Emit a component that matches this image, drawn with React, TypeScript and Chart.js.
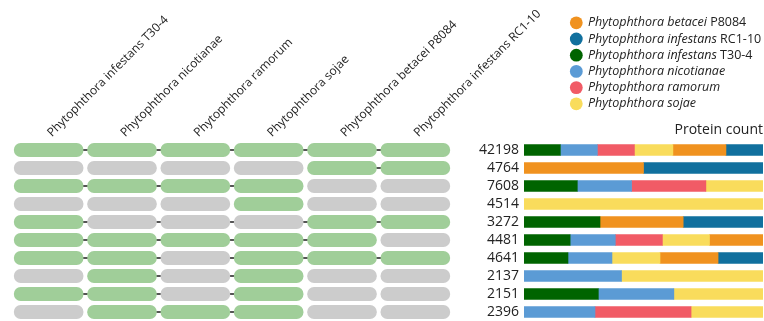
import { useEffect, useRef } from 'react';
import { Chart, registerables } from 'chart.js';

Chart.register(...registerables);

// Species in matrix-column / stack order
const speciesGenus = [
  'Phytophthora infestans',
  'Phytophthora nicotianae',
  'Phytophthora ramorum',
  'Phytophthora sojae',
  'Phytophthora betacei',
  'Phytophthora infestans',
];
const speciesStrain = ['T30-4', '', '', '', 'P8084', 'RC1-10'];
const speciesColors = ['#006400', '#5b9bd5', '#f15b66', '#f9dc5c', '#f0921f', '#11709e'];
// Legend lists species alphabetically
const legendOrder = [4, 5, 0, 1, 2, 3];

// Which species (column indices) share each protein cluster
const memberships: number[][] = [
  [0, 1, 2, 3, 4, 5],
  [4, 5],
  [0, 1, 2, 3],
  [3],
  [0, 4, 5],
  [0, 1, 2, 3, 4],
  [0, 1, 3, 4, 5],
  [1, 3],
  [0, 1, 3],
  [1, 2, 3],
];
const proteinCounts = [42198, 4764, 7608, 4514, 3272, 4481, 4641, 2137, 2151, 2396];

// Share of each cluster's proteins per species (percent)
const shareT30 = [15.2, 0, 22.3, 0, 31.8, 19.3, 18.4, 0, 31.1, 0];
const shareNicotianae = [15.5, 0, 22.7, 0, 0, 18.9, 18.4, 40.8, 31.6, 29.7];
const shareRamorum = [15.5, 0, 31.1, 0, 0, 19.7, 0, 0, 0, 40.2];
const shareSojae = [16.1, 0, 23.8, 100, 0, 19.7, 20.1, 59.2, 37.3, 30.0];
const shareBetacei = [22.2, 50, 0, 0, 34.8, 22.5, 24.3, 0, 0, 0];
const shareRC1 = [15.5, 50, 0, 0, 33.4, 0, 18.7, 0, 0, 0];
const shares = [shareT30, shareNicotianae, shareRamorum, shareSojae, shareBetacei, shareRC1];

const MEMBER_GREEN = '#a0ce99';
const ABSENT_GREY = '#cccccc';
const TEXT = '#222222';
const FONT = "'Open Sans', sans-serif";

const fullName = (i: number) =>
  speciesStrain[i] ? `${speciesGenus[i]} ${speciesStrain[i]}` : speciesGenus[i];

const legendPlugin = {
  id: 'speciesLegend',
  afterDraw(chart: any) {
    const ctx = chart.ctx as CanvasRenderingContext2D;
    ctx.save();
    legendOrder.forEach((s, k) => {
      const cy = 22.8 + k * 16.2;
      ctx.beginPath();
      ctx.arc(106.3, cy, 6.4, 0, Math.PI * 2);
      ctx.fillStyle = speciesColors[s];
      ctx.fill();
      ctx.fillStyle = TEXT;
      ctx.textBaseline = 'middle';
      ctx.textAlign = 'left';
      ctx.font = `italic 12.5px ${FONT}`;
      ctx.fillText(speciesGenus[s], 118, cy);
      if (speciesStrain[s]) {
        const w = ctx.measureText(speciesGenus[s] + ' ').width;
        ctx.font = `12.5px ${FONT}`;
        ctx.fillText(speciesStrain[s], 118 + w, cy);
      }
    });
    ctx.restore();
  },
};

export default function App() {
  const matrixRef = useRef<HTMLCanvasElement>(null);
  const barRef = useRef<HTMLCanvasElement>(null);

  useEffect(() => {
    Chart.defaults.font.family = FONT;

    const pillSets = speciesGenus.map((_, c) => ({
      label: fullName(c),
      data: memberships.map((_m, r) => ({ x: [c - 0.47, c + 0.47], y: r })),
      backgroundColor: memberships.map((m) => (m.includes(c) ? MEMBER_GREEN : ABSENT_GREY)),
      borderRadius: 20,
      borderSkipped: false,
      borderWidth: 0,
      barThickness: 13.5,
      grouped: false,
      order: 0,
    }));
    // Thin line joining the first and last member of each multi-species cluster
    const connectorSet = {
      label: 'link',
      data: memberships.map((m, r) =>
        m.length > 1 ? { x: [Math.min(...m), Math.max(...m)], y: r } : { x: null, y: r }
      ),
      backgroundColor: '#555555',
      borderWidth: 0,
      barThickness: 1.5,
      grouped: false,
      order: 10,
    };

    const matrix = new Chart(matrixRef.current!, {
      type: 'bar',
      data: { datasets: [...pillSets, connectorSet] as any },
      options: {
        indexAxis: 'y',
        animation: false,
        responsive: false,
        events: [],
        layout: { padding: { left: 12, right: 312, top: 0, bottom: 0 } },
        plugins: { legend: { display: false }, tooltip: { enabled: false } },
        scales: {
          x: {
            type: 'linear',
            position: 'top',
            min: -0.5,
            max: 5.5,
            afterBuildTicks: (s: any) => {
              s.ticks = speciesGenus.map((_, i) => ({ value: i }));
            },
            afterFit: (s: any) => {
              s.height = 141;
              s.paddingLeft = 0;
              s.paddingRight = 0;
            },
            ticks: {
              autoSkip: false,
              minRotation: 45,
              maxRotation: 45,
              padding: 1,
              labelOffset: 11,
              color: TEXT,
              font: { size: 12 },
              callback: (v: any) => fullName(Number(v)),
            },
            grid: { display: false, drawTicks: false },
            border: { display: false },
          },
          y: {
            type: 'linear',
            min: -0.5,
            max: 9.5,
            reverse: true,
            offset: false,
            display: false,
          },
        },
      } as any,
    });

    const bars = new Chart(barRef.current!, {
      type: 'bar',
      data: {
        labels: proteinCounts.map(String),
        datasets: speciesGenus.map((_, c) => ({
          label: fullName(c),
          // species absent from a cluster get no segment at all
          data: shares[c].map((v) => (v > 0 ? v : null)),
          backgroundColor: speciesColors[c],
          borderWidth: 0,
          barThickness: 11,
        })),
      },
      options: {
        indexAxis: 'y',
        animation: false,
        responsive: false,
        events: [],
        layout: { padding: { left: 0, right: 1, top: 118, bottom: 0 } },
        plugins: { legend: { display: false }, tooltip: { enabled: false } },
        scales: {
          x: {
            stacked: true,
            min: 0,
            max: 100,
            position: 'top',
            ticks: { display: false },
            grid: { display: false, drawTicks: false },
            border: { display: false },
            title: {
              display: true,
              text: 'Protein count',
              align: 'end',
              color: TEXT,
              font: { size: 14 },
              padding: { top: 4, bottom: 4 },
            },
            afterFit: (s: any) => {
              s.height = 23;
            },
          },
          y: {
            stacked: true,
            ticks: { color: TEXT, font: { size: 14 }, padding: 5, autoSkip: false },
            grid: { display: false, drawTicks: false },
            border: { display: false },
            afterFit: (s: any) => {
              s.width = 54;
              s.paddingTop = 0;
              s.paddingBottom = 0;
            },
          },
        },
      } as any,
      plugins: [legendPlugin],
    });

    return () => {
      matrix.destroy();
      bars.destroy();
    };
  }, []);

  return (
    <div
      style={{
        position: 'fixed',
        left: 0,
        top: 0,
        width: 764,
        height: 321,
        background: '#ffffff',
        overflow: 'hidden',
      }}
    >
      <canvas
        ref={barRef}
        width={294}
        height={321}
        style={{ position: 'absolute', left: 470, top: 0, width: 294, height: 321 }}
      />
      <canvas
        ref={matrixRef}
        width={764}
        height={321}
        style={{ position: 'absolute', left: 0, top: 0, width: 764, height: 321, pointerEvents: 'none' }}
      />
    </div>
  );
}
